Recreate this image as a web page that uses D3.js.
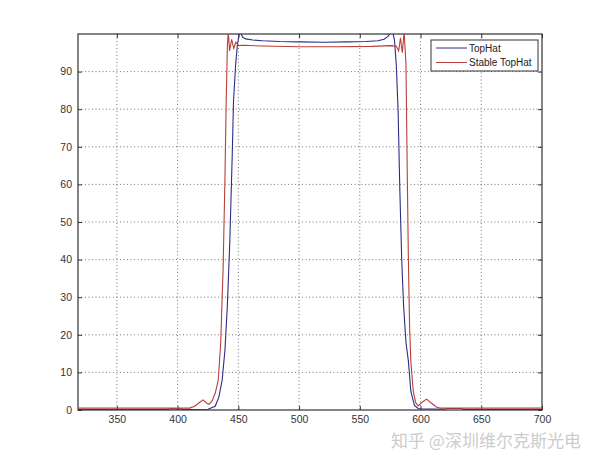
<!DOCTYPE html>
<html>
<head>
<meta charset="utf-8">
<script src="https://cdn.jsdelivr.net/npm/d3@7"></script>
<style>
html,body{margin:0;padding:0;background:#fff;}
svg{display:block;}
</style>
</head>
<body>
<svg id="chart" width="600" height="463"></svg>
<script>
// ---- data ----
const xTicks = [350, 400, 450, 500, 550, 600, 650, 700];
const yTicks = [0, 10, 20, 30, 40, 50, 60, 70, 80, 90];
const seriesNames = ["TopHat", "Stable TopHat"];

const topHatX = [318, 390, 395, 402, 405, 425, 431, 434, 436.7, 439, 441, 443, 445, 446, 447.8, 449.2, 450.5, 451.5, 453.5, 456, 462, 470, 484, 500, 520, 540, 555, 565, 570, 573, 575, 577, 578.5, 580, 581.5, 583, 584.5, 586, 588, 590, 592, 595, 598, 600, 620, 622, 633, 636, 700];
const topHatY = [0.1, 0.1, 0.3, 0.3, 0.1, 0.2, 1.0, 3.5, 8, 16, 28, 45, 68, 82, 92, 97, 99.6, 100.6, 99.2, 98.7, 98.4, 98.2, 98.0, 97.9, 97.8, 97.9, 98.0, 98.2, 98.6, 99.3, 100.2, 100.6, 98.5, 92, 80, 58, 40, 28, 18, 13, 5, 1.2, 0.4, 0.3, 0.2, 0.4, 0.4, 0.1, 0.1];

const stableX = [318, 410, 414, 418, 421, 424, 426, 428.5, 431, 433.5, 435.5, 437.5, 439, 440, 441, 441.7, 442.8, 444.5, 446.2, 448, 450, 455, 470, 500, 530, 560, 575, 580, 582, 583.5, 585, 586.5, 588, 589, 590, 591, 592, 594, 596, 598, 601, 605, 609, 613, 616, 700];
const stableY = [0.5, 0.5, 1.0, 2.0, 2.7, 1.8, 1.5, 2.5, 4.5, 8, 18, 38, 62, 82, 97, 100.6, 95.5, 98.6, 96.2, 97.8, 96.9, 97.0, 96.8, 96.6, 96.6, 96.7, 96.9, 96.8, 95.5, 99, 95, 100.6, 92, 65, 40, 22, 13, 5, 2, 1.1, 2.0, 2.9, 1.8, 0.8, 0.5, 0.5];

const colors = ["#2e2e86", "#b8403a"];

// ---- layout ----
const svg = d3.select("#chart");
const L = 78, R = 542, T = 34, B = 410;
const x = d3.scaleLinear().domain([318, 700]).range([L, R]);
const y = d3.scaleLinear().domain([0, 100]).range([B, T]);

svg.append("rect").attr("width", 600).attr("height", 463).attr("fill", "#fff");

svg.append("defs").append("clipPath").attr("id", "clip")
  .append("rect").attr("x", L).attr("y", T).attr("width", R - L).attr("height", B - T);

// grid
const grid = svg.append("g").attr("stroke", "#555").attr("stroke-width", 0.8).attr("stroke-dasharray", "1,2.5");
grid.selectAll(".vg").data(xTicks.filter(d => d < 700)).enter().append("line")
  .attr("x1", d => x(d)).attr("x2", d => x(d)).attr("y1", T).attr("y2", B);
grid.selectAll(".hg").data(yTicks.filter(d => d > 0)).enter().append("line")
  .attr("y1", d => y(d)).attr("y2", d => y(d)).attr("x1", L).attr("x2", R);

// axes with inward ticks
const xAxis = d3.axisBottom(x).tickValues(xTicks).tickSize(-4).tickPadding(6).tickFormat(d3.format("d"));
const yAxis = d3.axisLeft(y).tickValues(yTicks).tickSize(-4).tickPadding(6).tickFormat(d3.format("d"));
const gx = svg.append("g").attr("transform", `translate(0,${B})`).call(xAxis);
const gy = svg.append("g").attr("transform", `translate(${L},0)`).call(yAxis);
const gyR = svg.append("g").attr("transform", `translate(${R},0)`).call(d3.axisRight(y).tickValues(yTicks).tickSize(-4).tickFormat(""));
const gxT = svg.append("g").attr("transform", `translate(0,${T})`).call(d3.axisTop(x).tickValues(xTicks).tickSize(-4).tickFormat(""));
[gx, gy, gyR, gxT].forEach(g => {
  g.select(".domain").remove();
  g.selectAll("line").attr("stroke", "#333");
  g.selectAll("text").attr("font-family", "Liberation Sans, Arial, sans-serif").attr("font-size", 10.5).attr("fill", "#333");
});

// frame
svg.append("rect").attr("x", L).attr("y", T).attr("width", R - L).attr("height", B - T)
  .attr("fill", "none").attr("stroke", "#333").attr("stroke-width", 1.2);

// lines
const line = d3.line().x(d => x(d[0])).y(d => y(d[1]));
const plot = svg.append("g").attr("clip-path", "url(#clip)");
const series = [
  d3.zip(topHatX, topHatY),
  d3.zip(stableX, stableY)
];
plot.selectAll("path").data(series).enter().append("path")
  .attr("d", line).attr("fill", "none")
  .attr("stroke", (d, i) => colors[i]).attr("stroke-width", 1.1);

// legend
const lg = svg.append("g");
lg.append("rect").attr("x", 431).attr("y", 40).attr("width", 107).attr("height", 31)
  .attr("fill", "#fff").attr("stroke", "#333").attr("stroke-width", 1);
seriesNames.forEach((n, i) => {
  const yy = 48 + i * 14.5;
  lg.append("line").attr("x1", 436).attr("x2", 467).attr("y1", yy).attr("y2", yy)
    .attr("stroke", colors[i]).attr("stroke-width", 1);
  lg.append("text").attr("x", 469).attr("y", yy + 3.5).text(n)
    .attr("font-family", "Liberation Sans, Arial, sans-serif").attr("font-size", 10).attr("fill", "#222");
});

// watermark
svg.append("text").attr("x", 391).attr("y", 447).text("知乎 @深圳维尔克斯光电")
  .attr("font-family", "Noto Sans CJK SC, sans-serif").attr("font-size", 17)
  .attr("fill", "#cccccc");
</script>
</body>
</html>
